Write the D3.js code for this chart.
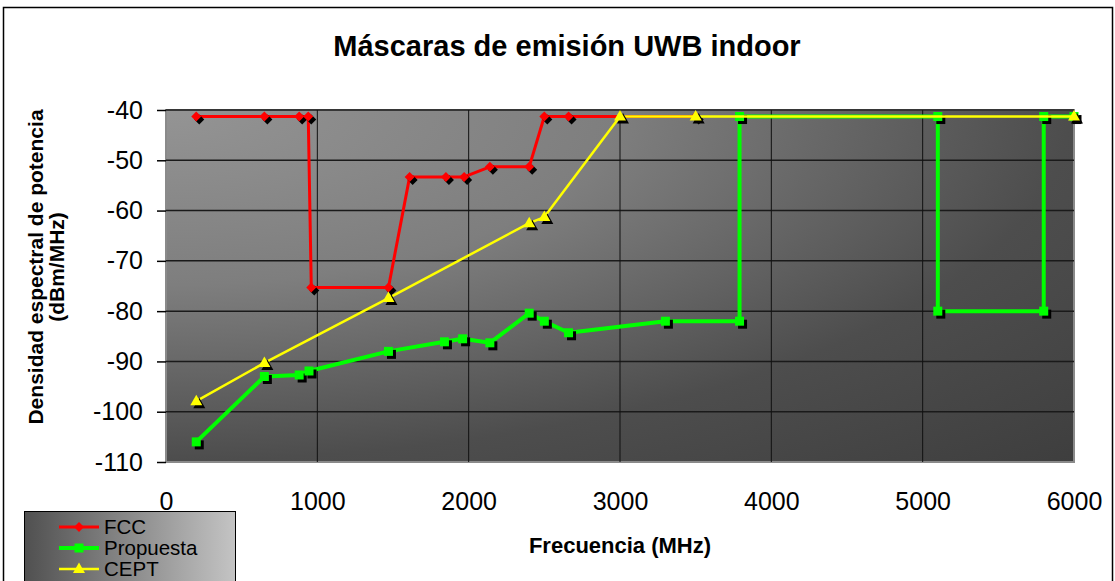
<!DOCTYPE html>
<html>
<head>
<meta charset="utf-8">
<script src="https://cdn.jsdelivr.net/npm/d3@7"></script>
<style>
  html, body { margin: 0; padding: 0; background: #fff; }
  svg { display: block; font-family: "Liberation Sans", Arial, sans-serif; }
</style>
</head>
<body>
<svg id="chart" width="1115" height="581"></svg>
<script>
// ---- data ----
const titleText = "Máscaras de emisión UWB indoor";
const xTitle = "Frecuencia (MHz)";
const yTitleLines = ["Densidad espectral de potencia", "(dBm/MHz)"];
const xTicks = [0, 1000, 2000, 3000, 4000, 5000, 6000];
const yTicks = [-40, -50, -60, -70, -80, -90, -100, -110];
const seriesNames = ["FCC", "Propuesta", "CEPT"];

const fccFreq  = [200, 650, 880, 940, 960, 1470, 1610, 1850, 1970, 2140, 2400, 2500, 2660, 3500];
const fccLevel = [-41.3, -41.3, -41.3, -41.3, -75.3, -75.3, -53.3, -53.3, -53.3, -51.3, -51.3, -41.3, -41.3, -41.3];

const propFreq  = [200, 650, 880, 945, 1470, 1840, 1960, 2140, 2400, 2500, 2660, 3300, 3790, 3790, 5100, 5100, 5800, 5800, 6000];
const propLevel = [-106, -93, -92.7, -91.9, -88, -86.1, -85.5, -86.3, -80.4, -82, -84.3, -82, -82, -41.3, -41.3, -80, -80, -41.3, -41.3];

const ceptFreq  = [200, 650, 1470, 2400, 2500, 3000, 3500, 6000];
const ceptLevel = [-97.9, -90.3, -77.4, -62.5, -61.3, -41.3, -41.3, -41.3];

// ---- layout ----
const svg = d3.select("#chart");
const L = 166, R = 1074, T = 110, B = 462;
const x = d3.scaleLinear().domain([0, 6000]).range([L, R]);
const y = d3.scaleLinear().domain([-110, -40]).range([B, T]);

const defs = svg.append("defs");
const pg = defs.append("radialGradient").attr("id", "plotGrad")
  .attr("cx", 0).attr("cy", 0).attr("r", 1.42).attr("fx", 0).attr("fy", 0);
pg.append("stop").attr("offset", "0").attr("stop-color", "#949494");
pg.append("stop").attr("offset", "0.35").attr("stop-color", "#7e7e7e");
pg.append("stop").attr("offset", "0.7").attr("stop-color", "#4d4d4d");
pg.append("stop").attr("offset", "1").attr("stop-color", "#3e3e3e");

const lg = defs.append("linearGradient").attr("id", "legGrad")
  .attr("x1", 0).attr("y1", 0).attr("x2", 1).attr("y2", 0);
lg.append("stop").attr("offset", "0").attr("stop-color", "#505050");
lg.append("stop").attr("offset", "1").attr("stop-color", "#c4c4c4");

// chart border
svg.append("rect").attr("x", 3.5).attr("y", 7.5).attr("width", 1109).attr("height", 620)
  .attr("fill", "#fff").attr("stroke", "#000").attr("stroke-width", 1.5);

// title
svg.append("text").attr("x", 567).attr("y", 56).attr("text-anchor", "middle")
  .attr("font-size", 29).attr("font-weight", "bold").text(titleText);

// plot area
svg.append("rect").attr("x", L).attr("y", T).attr("width", R - L).attr("height", B - T)
  .attr("fill", "url(#plotGrad)").attr("stroke", "#8a8a8a").attr("stroke-width", 2);

// gridlines
svg.append("g").selectAll("line").data(yTicks.filter(v => v !== -110)).join("line")
  .attr("x1", L).attr("x2", R).attr("y1", d => y(d)).attr("y2", d => y(d))
  .attr("stroke", "#1a1a1a").attr("stroke-width", 1.5);
svg.append("g").selectAll("line").data(xTicks.filter(v => v > 0 && v < 6000)).join("line")
  .attr("y1", T).attr("y2", B).attr("x1", d => x(d)).attr("x2", d => x(d))
  .attr("stroke", "#111").attr("stroke-width", 1);

// axes
const yAxis = svg.append("g").attr("transform", `translate(${L},0)`)
  .call(d3.axisLeft(y).tickValues(yTicks).tickSize(9).tickPadding(14).tickFormat(d => String(d)));
yAxis.select(".domain").remove();
yAxis.selectAll("line").attr("stroke", "#000").attr("stroke-width", 1.5);
yAxis.selectAll("text").attr("font-size", 25).attr("fill", "#000")
  .attr("font-family", "Liberation Sans, Arial, sans-serif");

const xAxis = svg.append("g").attr("transform", `translate(0,${B})`)
  .call(d3.axisBottom(x).tickValues(xTicks).tickSize(0).tickPadding(30).tickFormat(d => String(d)));
xAxis.select(".domain").remove();
xAxis.selectAll("text").attr("font-size", 25).attr("fill", "#000")
  .attr("font-family", "Liberation Sans, Arial, sans-serif");

// axis titles
svg.append("text").attr("x", 620).attr("y", 553).attr("text-anchor", "middle")
  .attr("font-size", 22).attr("font-weight", "bold").text(xTitle);
const yt = svg.append("text").attr("transform", "translate(43,267) rotate(-90)")
  .attr("text-anchor", "middle").attr("font-size", 21).attr("font-weight", "bold");
yTitleLines.forEach((t, i) => yt.append("tspan").attr("x", 0).attr("dy", i === 0 ? 0 : 21).text(t));

// marker shapes
const shapes = {
  diamond: "M0,-5L5,0L0,5L-5,0Z",
  square: "M-4.5,-4.5H4.5V4.5H-4.5Z",
  triangle: "M0,-6.5L6,4L-6,4Z"
};

const series = [
  { name: seriesNames[0], fx: fccFreq, fy: fccLevel, color: "#ff0000", width: 3, shape: "diamond" },
  { name: seriesNames[1], fx: propFreq, fy: propLevel, color: "#00ff00", width: 4, shape: "square" },
  { name: seriesNames[2], fx: ceptFreq, fy: ceptLevel, color: "#ffff00", width: 2.5, shape: "triangle" }
];

const line = d3.line().x(d => x(d[0])).y(d => y(d[1]));

series.forEach(s => {
  const pts = s.fx.map((f, i) => [f, s.fy[i]]);
  const g = svg.append("g");
  g.append("path").datum(pts).attr("d", line).attr("fill", "none")
    .attr("stroke", s.color).attr("stroke-width", s.width).attr("stroke-linejoin", "round");
  g.selectAll("path.sh").data(pts).join("path").attr("class", "sh")
    .attr("d", shapes[s.shape]).attr("fill", "#000")
    .attr("transform", d => `translate(${x(d[0]) + 3},${y(d[1]) + 3})`);
  g.selectAll("path.mk").data(pts).join("path").attr("class", "mk")
    .attr("d", shapes[s.shape]).attr("fill", s.color)
    .attr("transform", d => `translate(${x(d[0])},${y(d[1])})`);
});

// legend
const leg = svg.append("g");
leg.append("rect").attr("x", 24.5).attr("y", 511.5).attr("width", 211).attr("height", 90)
  .attr("fill", "url(#legGrad)").attr("stroke", "#000").attr("stroke-width", 1);
series.forEach((s, i) => {
  const cy = 527 + i * 21;
  leg.append("line").attr("x1", 59).attr("x2", 99).attr("y1", cy).attr("y2", cy)
    .attr("stroke", s.color).attr("stroke-width", s.width);
  leg.append("path").attr("d", shapes[s.shape]).attr("fill", s.color)
    .attr("transform", `translate(79,${cy})`);
  leg.append("text").attr("x", 104).attr("y", cy + 7).attr("font-size", 20.5)
    .attr("fill", "#000").text(s.name);
});
</script>
</body>
</html>
